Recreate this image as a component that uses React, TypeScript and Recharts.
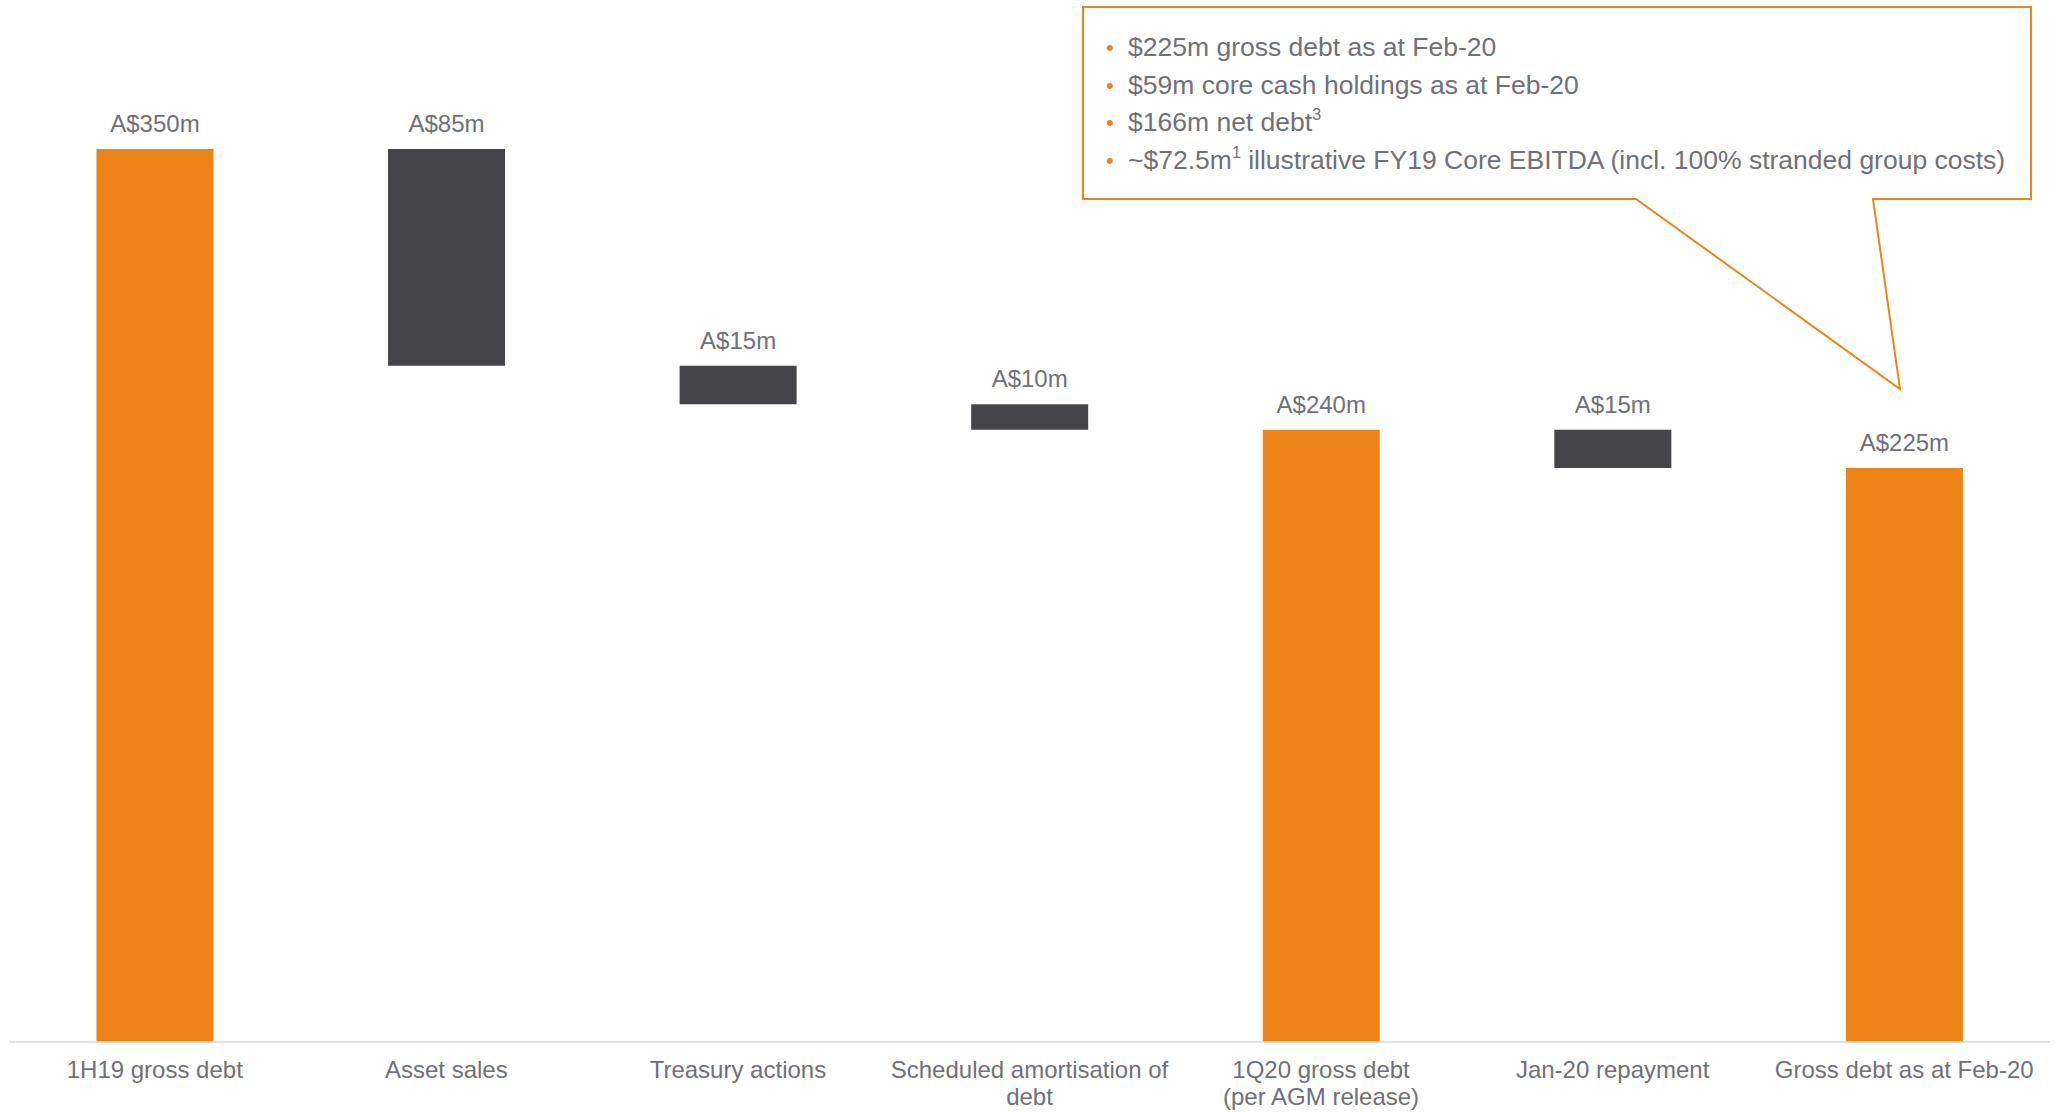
import React from 'react';
import { BarChart, Bar, XAxis, YAxis, Cell, LabelList } from 'recharts';

const categories = [
  '1H19 gross debt',
  'Asset sales',
  'Treasury actions',
  'Scheduled amortisation of\ndebt',
  '1Q20 gross debt\n(per AGM release)',
  'Jan-20 repayment',
  'Gross debt as at Feb-20',
];
const amounts = [350, -85, -15, -10, 240, -15, 225];
const isTotal = [true, false, false, false, true, false, true];

const ORANGE = '#EE8418';
const DARK = '#46444B';
const GREY = '#707078';
const FONT = '"Liberation Sans", Arial, sans-serif';

// build the invisible base + visible step for the waterfall
let running = 0;
const rows = categories.map((name, i) => {
  const amt = amounts[i];
  if (isTotal[i]) {
    running = amt;
    return { name, base: 0, value: amt, amount: amt, total: true };
  }
  const bottom = running + amt;
  const row = { name, base: bottom, value: -amt, amount: amt, total: false };
  running = bottom;
  return row;
});

const CategoryTick = ({ x, y, payload }: any) => {
  const lines = String(payload.value).split('\n');
  return (
    <text x={x} y={y} textAnchor="middle" fill={GREY} fontSize={24} fontFamily={FONT}>
      {lines.map((l, i) => (
        <tspan key={i} x={x} dy={i === 0 ? 36 : 27}>{l}</tspan>
      ))}
    </text>
  );
};

const bullets = [
  { text: '$225m gross debt as at Feb-20' },
  { text: '$59m core cash holdings as at Feb-20' },
  { text: '$166m net debt', sup: '3' },
  { text: '~$72.5m', sup: '1', rest: ' illustrative FY19 Core EBITDA (incl. 100% stranded group costs)' },
];

function Callout() {
  return (
    <svg width={2055} height={1112} style={{ position: 'absolute', left: 0, top: 0, pointerEvents: 'none' }}>
      <path
        d="M1083,7 H2031 V199 H1873 L1900,389 L1636,199 H1083 Z"
        fill="none"
        stroke={ORANGE}
        strokeWidth={2}
      />
      {bullets.map((b, i) => {
        const y = 56 + i * 37.5;
        return (
          <g key={i}>
            <text x={1106} y={y - 1} fill={ORANGE} fontSize={22} fontFamily={FONT}>•</text>
            <text x={1128} y={y} fill={GREY} fontSize={26.5} fontFamily={FONT}>
              {b.text}
              {b.sup && <tspan fontSize={16} dy={-11}>{b.sup}</tspan>}
              {b.rest && <tspan dy={11}>{b.rest}</tspan>}
            </text>
          </g>
        );
      })}
    </svg>
  );
}

export default function App() {
  return (
    <div style={{ position: 'absolute', left: 0, top: 0, width: 2055, height: 1112, background: '#fff' }}>
      <BarChart
        width={2055}
        height={1112}
        data={rows}
        margin={{ top: 149, right: 5, left: 9, bottom: 0 }}
        barCategoryGap="30%"
      >
        <XAxis
          dataKey="name"
          interval={0}
          height={70}
          tickLine={false}
          tickSize={0}
          tickMargin={0}
          axisLine={{ stroke: '#D9D9D9', strokeWidth: 1.5 }}
          tick={<CategoryTick />}
        />
        <YAxis hide domain={[0, 350]} />
        <Bar dataKey="base" stackId="w" fill="transparent" isAnimationActive={false} />
        <Bar dataKey="value" stackId="w" isAnimationActive={false}>
          {rows.map((r, i) => (
            <Cell key={i} fill={r.total ? ORANGE : DARK} />
          ))}
          <LabelList
            dataKey="amount"
            position="top"
            offset={17}
            fill={GREY}
            fontSize={24}
            fontFamily={FONT}
            formatter={(v: any) => `A$${Math.abs(Number(v))}m`}
          />
        </Bar>
      </BarChart>
      <Callout />
    </div>
  );
}
